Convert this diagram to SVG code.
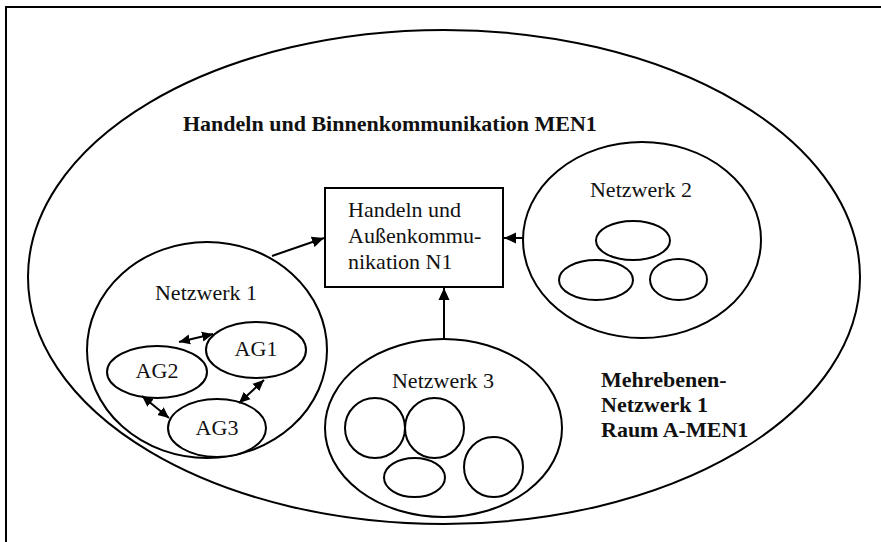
<svg xmlns="http://www.w3.org/2000/svg" width="881" height="542" viewBox="0 0 881 542">
<style>
.ln{fill:none;stroke:#000;stroke-width:2}
.sh{fill:#fff;stroke:#000;stroke-width:2}
.t{font-family:'Liberation Serif',Tinos,'Nimbus Roman','Times New Roman','DejaVu Serif','Noto Serif',serif;font-size:22px;fill:#111}
.b{font-family:'Liberation Serif',Tinos,'Nimbus Roman','Times New Roman','DejaVu Serif','Noto Serif',serif;font-size:22px;font-weight:bold;fill:#111}
</style>
<defs>
<marker id="ah" markerUnits="userSpaceOnUse" markerWidth="14" markerHeight="12" refX="12" refY="6" orient="auto">
<path d="M0,0.5 L12,6 L0,11.5 Z" fill="#000"/>
</marker>
<marker id="sa" markerUnits="userSpaceOnUse" markerWidth="13" markerHeight="12" refX="11" refY="6" orient="auto-start-reverse">
<path d="M0,1 L11,6 L0,11 Z" fill="#000"/>
</marker>
</defs>
<rect width="881" height="542" fill="#fff"/>
<path class="ln" d="M6,542 V7 H881"/>
<g id="men1">
<ellipse class="ln" cx="444" cy="277" rx="416" ry="247"/>
<text class="b" x="183" y="131">Handeln und Binnenkommunikation MEN1</text>
<text class="b" x="601" y="387">Mehrebenen-</text>
<text class="b" x="601" y="412">Netzwerk 1</text>
<text class="b" x="601" y="437">Raum A-MEN1</text>
</g>
<g id="n1box">
<rect class="ln" x="325" y="188" width="178" height="99"/>
<text class="t" x="348" y="217">Handeln und</text>
<text class="t" x="348" y="243">Außenkommu-</text>
<text class="t" x="348" y="269">nikation N1</text>
</g>
<g id="netzwerk1">
<ellipse class="ln" cx="207" cy="350" rx="120" ry="108"/>
<text class="t" x="206" y="300" text-anchor="middle">Netzwerk 1</text>
</g>
<g id="ag1">
<ellipse class="sh" cx="256" cy="350" rx="50" ry="28"/>
<text class="t" x="256" y="356" text-anchor="middle">AG1</text>
</g>
<g id="ag2">
<ellipse class="sh" cx="157" cy="372" rx="50" ry="26"/>
<text class="t" x="157" y="378" text-anchor="middle">AG2</text>
</g>
<g id="ag3">
<ellipse class="sh" cx="217" cy="428" rx="49" ry="29"/>
<text class="t" x="217" y="435" text-anchor="middle">AG3</text>
</g>
<g id="netzwerk2">
<ellipse class="ln" cx="642" cy="240" rx="119" ry="98"/>
<text class="t" x="641" y="197" text-anchor="middle">Netzwerk 2</text>
<ellipse class="ln" cx="633" cy="240.5" rx="37" ry="19.5"/>
<ellipse class="ln" cx="596" cy="280" rx="37" ry="20"/>
<ellipse class="ln" cx="678.5" cy="279.5" rx="28.5" ry="20.5"/>
</g>
<g id="netzwerk3">
<ellipse class="ln" cx="443.5" cy="428" rx="118.5" ry="89"/>
<text class="t" x="443" y="388" text-anchor="middle">Netzwerk 3</text>
<ellipse class="ln" cx="375" cy="428" rx="30" ry="30"/>
<ellipse class="ln" cx="434.5" cy="428" rx="29.5" ry="30"/>
<ellipse class="ln" cx="414.5" cy="477.5" rx="30.5" ry="19.5"/>
<ellipse class="ln" cx="493.5" cy="467" rx="29.5" ry="30"/>
</g>
<g id="connectors">
<line class="ln" x1="272" y1="256" x2="324" y2="238" marker-end="url(#ah)"/>
<line class="ln" x1="523" y1="238" x2="504" y2="238" marker-end="url(#ah)"/>
<line class="ln" x1="444" y1="339" x2="444" y2="288" marker-end="url(#ah)"/>
<line class="ln" x1="179" y1="342" x2="213" y2="334" marker-start="url(#sa)" marker-end="url(#sa)"/>
<line class="ln" x1="264" y1="380" x2="239" y2="403" marker-start="url(#sa)" marker-end="url(#sa)"/>
<line class="ln" x1="142" y1="396" x2="169" y2="418" marker-start="url(#sa)" marker-end="url(#sa)"/>
</g>
</svg>
